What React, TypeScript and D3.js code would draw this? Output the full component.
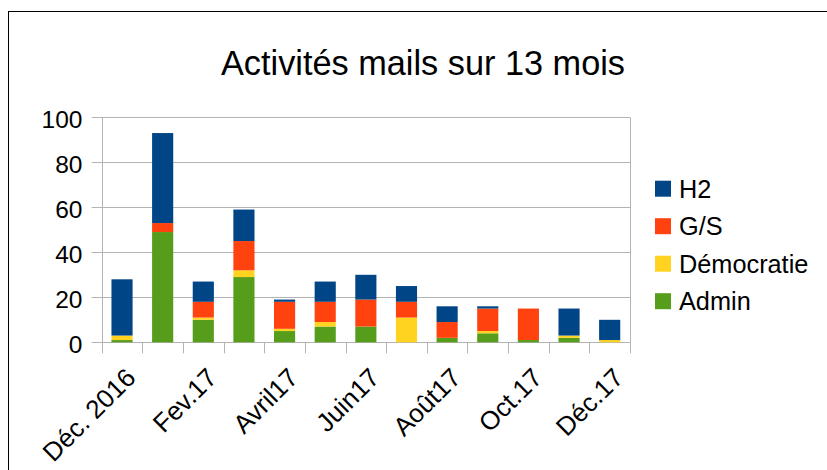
import React from "react";
import * as d3 from "d3";

const categories = ["Déc. 2016", "Janv.17", "Fev.17", "Mars17", "Avril17", "Mai17", "Juin17", "Juil.17", "Août17", "Sept.17", "Oct.17", "Nov.17", "Déc.17"];
const admin = [1, 49, 10, 29, 5, 7, 7, 0, 2, 4, 1, 2, 0];
const democratie = [2, 0, 1, 3, 1, 2, 0, 11, 0, 1, 0, 1, 1];
const gs = [0, 4, 7, 13, 12, 9, 12, 7, 7, 10, 14, 0, 0];
const h2 = [25, 40, 9, 14, 1, 9, 11, 7, 7, 1, 0, 12, 9];
const seriesNames = ["Admin", "Démocratie", "G/S", "H2"];
const seriesColors = ["#579d1c", "#ffd320", "#ff420e", "#004586"];
const yTicks = [0, 20, 40, 60, 80, 100];
const title = "Activités mails sur 13 mois";

const W = 827, H = 470;
const left = 101.7, right = 630, top = 117.3, bottom = 342.3;
const FONT = "'Liberation Sans', Arial, sans-serif";

export default function App() {
  const rows = categories.map((c, i) => ({ cat: c, Admin: admin[i], "Démocratie": democratie[i], "G/S": gs[i], H2: h2[i] }));
  const stack = d3.stack<any>().keys(seriesNames)(rows);
  const x = d3.scaleBand<string>().domain(categories).range([left, right]).paddingInner(0.48).paddingOuter(0.24);
  const xb = d3.scaleBand<string>().domain(categories).range([left, right]);
  const y = d3.scaleLinear().domain([0, 100]).range([bottom, top]);
  const grid = "#b3b3b3";
  const bounds = categories.map((c) => xb(c)!).concat([right]);
  const legendOrder = [3, 2, 1, 0];
  return (
    <svg width={W} height={H} style={{ position: "fixed", left: 0, top: 0, display: "block" }} fontFamily={FONT}>
      <rect x={0} y={0} width={W} height={H} fill="#fff" />
      <rect x={8.5} y={11.5} width={W + 50} height={H + 50} fill="none" stroke="#000" strokeWidth={1} />
      <text x={423} y={75} textAnchor="middle" fontSize={34.3} fill="#000">{title}</text>
      {yTicks.map((t) => (
        <g key={t}>
          <line x1={left - 10} x2={right} y1={Math.round(y(t)) + 0.5} y2={Math.round(y(t)) + 0.5} stroke={grid} strokeWidth={1} />
          <text x={82.5} y={y(t) + 11} textAnchor="end" fontSize={24.5} fill="#000">{t}</text>
        </g>
      ))}
      <line x1={Math.round(left) + 0.5} x2={Math.round(left) + 0.5} y1={top} y2={bottom} stroke={grid} />
      <line x1={right + 0.5} x2={right + 0.5} y1={top} y2={bottom} stroke={grid} />
      {stack.map((s, si) => (
        <g key={s.key} fill={seriesColors[si]}>
          {s.map((d, i) => (
            <rect key={i} x={x(categories[i])!} width={x.bandwidth()} y={y(d[1])} height={Math.max(0, y(d[0]) - y(d[1]))} />
          ))}
        </g>
      ))}
      {bounds.map((b, i) => (
        <line key={i} x1={Math.round(b) + 0.5} x2={Math.round(b) + 0.5} y1={bottom} y2={bottom + 11} stroke={grid} />
      ))}
      {categories.map((c, i) => i % 2 === 0 ? (
        <text key={c} transform={`translate(${xb(c)! + xb.bandwidth() / 2 + 2},${366}) rotate(-45)`} textAnchor="end" dy="0.72em" fontSize={26} fill="#000">{c}</text>
      ) : null)}
      {legendOrder.map((si, k) => {
        const cy = 188.7 + k * 37.5;
        return (
          <g key={si}>
            <rect x={655} y={cy - 8} width={16} height={16} fill={seriesColors[si]} />
            <text x={679} y={cy + 9} fontSize={25.3} fill="#000">{seriesNames[si]}</text>
          </g>
        );
      })}
    </svg>
  );
}
